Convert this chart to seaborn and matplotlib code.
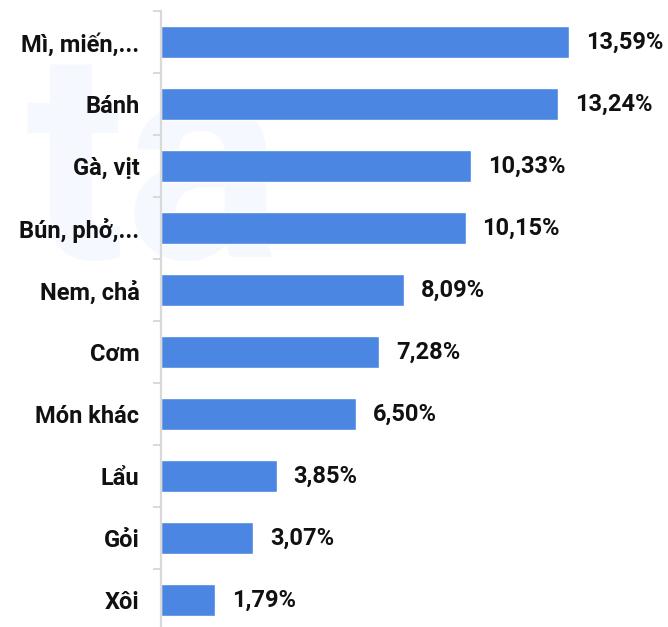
import matplotlib
matplotlib.use("Agg")
import matplotlib.pyplot as plt
import seaborn as sns
import pandas as pd
from matplotlib.ticker import FixedLocator, NullLocator

categories = ["Mì, miến,...", "Bánh", "Gà, vịt", "Bún, phở,...", "Nem, chả",
              "Cơm", "Món khác", "Lẩu", "Gỏi", "Xôi"]
values = [13.59, 13.24, 10.33, 10.15, 8.09, 7.28, 6.50, 3.85, 3.07, 1.79]
value_labels = ["13,59%", "13,24%", "10,33%", "10,15%", "8,09%", "7,28%",
                "6,50%", "3,85%", "3,07%", "1,79%"]

df = pd.DataFrame({"category": categories, "value": values})

sns.set_theme(style="white")
plt.rcParams['font.family'] = ['Roboto', 'DejaVu Sans']

W, H = 668, 627
fig = plt.figure(figsize=(W / 100, H / 100), dpi=100)
fig.patch.set_facecolor("white")

# faint watermark
fig.text(26 / W, 1 - 258 / H, "ta", fontsize=212, fontweight="bold",
         color="#f5f8fe", ha="left", va="baseline", zorder=0)

ax = fig.add_axes([161 / W, -4 / H, (W - 161) / W, 620 / H])
ax.set_zorder(1)
ax.patch.set_alpha(0)

sns.barplot(data=df, x="value", y="category", orient="h", color="#4a86e2",
            width=0.53, saturation=1, ax=ax, zorder=2)

ax.set_xlim(0, (W - 161) / 30.0)
ax.set_ylim(len(categories) - 0.5, -0.5)
ax.set_xlabel("")
ax.set_ylabel("")
ax.xaxis.set_major_locator(NullLocator())

for s in ["top", "right", "bottom"]:
    ax.spines[s].set_visible(False)
ax.spines["left"].set_color("#d9d9d9")
ax.spines["left"].set_linewidth(1.6)

ax.yaxis.set_minor_locator(FixedLocator([i - 0.5 for i in range(len(categories) + 1)]))
ax.tick_params(axis="y", which="minor", length=5.5, width=1.4, color="#d9d9d9", left=True)
ax.tick_params(axis="y", which="major", length=0, pad=15.5, labelsize=17)
for lab in ax.get_yticklabels():
    lab.set_fontweight("bold")
    lab.set_color("#111111")

for i, (v, t) in enumerate(zip(values, value_labels)):
    ax.annotate(t, xy=(v, i), xytext=(12.2, 0), textcoords="offset points",
                ha="left", va="center", fontsize=17, fontweight="bold",
                color="#111111")

fig.savefig("out.png", dpi=100, facecolor="white")
